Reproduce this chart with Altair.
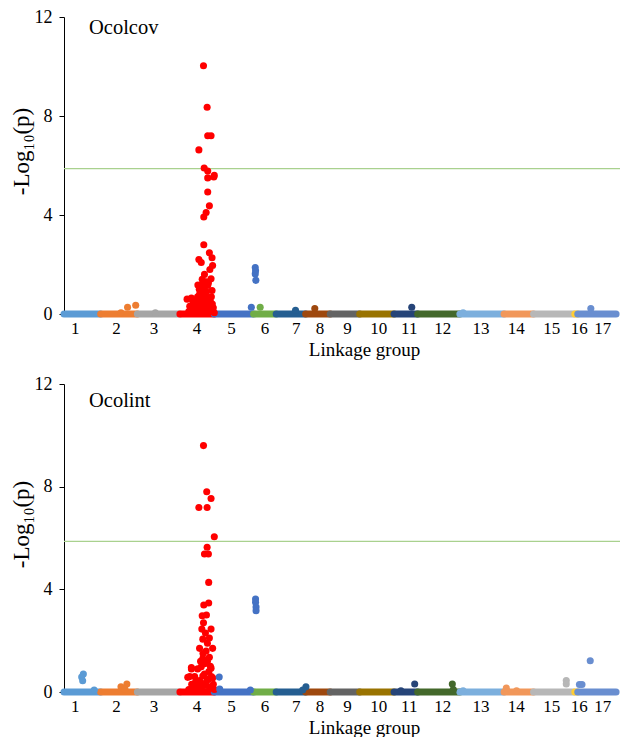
import json
import altair as alt
import pandas as pd

# ---------------- data ----------------
LG = list(range(1, 18))
SEG_START = [0, 37.3, 74.7, 118, 153, 193, 216, 246, 271, 301, 336, 360, 403, 448, 478, 520, 523]
SEG_END = [37.3, 74.7, 118, 153, 193, 216, 246, 271, 301, 336, 360, 403, 448, 478, 520, 523, 562]
LABEL_POS = [11, 53, 91, 135, 170, 204, 236, 260, 288, 320, 351, 385, 424, 460, 496, 524, 548]
COLORS = ["#5B9BD5", "#ED7D31", "#A5A5A5", "#FF0000", "#4472C4", "#70AD47", "#255E91",
          "#9E480E", "#636363", "#997300", "#264478", "#43682B", "#7CAFDD", "#F1975A",
          "#B7B7B7", "#FFCD33", "#698ED0"]
THRESHOLD = 5.87
PANELS = ["Ocolcov", "Ocolint"]

# Ocolcov (top panel): linkage group, cumulative position, -log10(p)
COV_LG = [2, 2, 2, 3] + [4] * 67 + [5, 5, 5, 5, 5, 6, 7, 8, 11, 13, 17]
COV_POS = [64.7, 73.0, 58.0, 93.0,
           142.0, 145.7, 146.3, 149.7, 137.3, 142.7, 146.3, 153.0, 146.3, 152.5, 146.3,
           148.0, 144.7, 142.3, 142.3, 137.3, 139.7, 148.0, 150.7, 151.3, 149.7, 140.7,
           146.3, 137.7, 150.7, 136.3, 125.3, 131.3, 129.7, 128.0, 141.3, 138.0, 144.0,
           147.0, 135.0, 152.0, 139.0, 143.0, 149.0, 133.0, 140.0, 145.0, 148.5, 136.0,
           143.5, 151.0, 146.0,
           127.0, 130.0, 134.0, 137.0, 139.0, 141.0, 142.0, 144.0, 145.0, 146.0,
           147.0, 148.0, 150.0, 151.0, 153.0, 136.0, 149.0, 145.5, 140.5, 143.0,
           194.7, 195.0, 194.7, 195.3, 190.7, 199.7, 235.7, 255.3, 354.0, 406.3, 536.3]
COV_VAL = [0.27, 0.35, 0.05, 0.05,
           10.03, 8.35, 7.2, 7.2, 6.63, 5.9, 5.78, 5.6, 5.5, 5.54, 4.93,
           4.37, 4.1, 3.92, 2.8, 2.2, 2.08, 2.47, 2.27, 1.96, 1.42, 1.4,
           1.15, 1.0, 0.95, 1.17, 0.6, 0.45, 0.64, 0.31, 0.6, 0.8, 0.75,
           0.5, 0.3, 0.25, 0.2, 0.15, 0.1, 0.1, 0.9, 1.3, 1.8, 0.5,
           0.35, 0.4, 0.2,
           0.1, 0.2, 0.55, 0.15, 0.45, 0.3, 1.05, 0.5, 0.9, 0.65,
           1.25, 0.3, 0.7, 0.15, 0.05, 0.7, 0.5, 0.1, 1.2, 1.6,
           1.88, 1.75, 1.62, 1.36, 0.27, 0.27, 0.15, 0.22, 0.27, 0.05, 0.22]

# Ocolint (bottom panel)
INT_LG = [1, 1, 1, 1, 2, 2, 2] + [4] * 60 + [5, 5, 5, 5, 5, 5, 5, 7, 7, 11, 11, 12, 12,
                                            13, 14, 14, 15, 15, 17, 17, 17]
INT_POS = [19.7, 18.0, 19.0, 30.7, 58.0, 64.0, 62.0,
           142.0, 145.3, 149.7, 137.3, 145.7, 153.0, 145.7, 143.0, 147.0, 147.3, 142.3,
           147.3, 140.7, 140.3, 149.7, 141.3, 148.0, 138.0, 144.7, 151.3, 141.3, 148.0,
           129.7, 139.7, 149.7, 128.0, 141.3, 151.3, 143.0, 146.0, 144.0, 137.0, 132.0,
           145.0, 150.0, 140.0, 147.5, 134.0, 126.0, 129.7,
           127.0, 130.0, 133.0, 135.0, 138.0, 140.0, 141.5, 143.0, 144.5, 146.0,
           147.0, 148.5, 150.0, 152.0, 153.0, 136.0, 142.0, 149.0, 145.0, 139.0,
           158.0, 158.5, 189.7, 195.0, 195.0, 195.5, 195.5, 246.3, 243.0, 357.0, 343.0,
           395.3, 396.3, 406.3, 450.3, 460.7, 511.3, 511.3, 524.7, 527.3, 535.7]
INT_VAL = [0.7, 0.58, 0.44, 0.08, 0.2, 0.31, 0.12,
           9.6, 7.8, 7.54, 7.19, 7.19, 6.05, 5.64, 5.38, 5.38, 4.27, 3.39,
           3.47, 2.97, 2.45, 2.45, 2.06, 2.1, 1.7, 1.6, 1.7, 1.3, 1.35,
           0.95, 0.98, 0.93, 0.6, 0.62, 0.55, 1.1, 1.9, 2.3, 0.3, 0.2,
           0.4, 0.2, 0.1, 0.8, 0.4, 0.57, 0.9,
           0.1, 0.3, 0.6, 0.15, 0.45, 0.3, 1.5, 0.7, 0.25, 1.2,
           0.5, 0.15, 0.6, 0.3, 0.1, 0.9, 2.7, 1.0, 3.0, 1.2,
           0.58, 0.12, 0.08, 3.62, 3.5, 3.31, 3.17, 0.2, 0.08, 0.31, 0.05,
           0.31, 0.1, 0.05, 0.15, 0.05, 0.45, 0.31, 0.29, 0.29, 1.22]

# ---------------- chart ----------------
FONT = "Liberation Serif"
seg_df = pd.DataFrame({"lg": [str(v) for v in LG], "start": SEG_START, "end": SEG_END})
thr_df = pd.DataFrame({"t": [THRESHOLD]})
color_scale = alt.Scale(domain=[str(v) for v in LG], range=COLORS)
x_scale = alt.Scale(domain=[0, 566], nice=False, zero=False)
y_scale = alt.Scale(domain=[0, 12], nice=False)
label_expr = "indexof(" + json.dumps(LABEL_POS) + ", datum.value) + 1"

x_axis = alt.Axis(values=LABEL_POS, labelExpr=label_expr, ticks=False, domain=False,
                  grid=False, title="Linkage group", labelPadding=6, titlePadding=4,
                  labelOverlap=False, labelFontSize=17, titleFontSize=19, titleX=300)


def make_y_axis(title_y):
    return alt.Axis(values=[0, 4, 8, 12], tickSize=5, labelPadding=7, grid=False,
                    title="-Log₁₀(p)", titlePadding=1, labelFontSize=18, titleFontSize=23,
                    titleY=title_y, domainColor="#000000", tickColor="#000000")


def panel(name, lgs, pos, vals, h, label_y, title_y):
    y_axis = make_y_axis(title_y)
    pts = pd.DataFrame({"lg": [str(v) for v in lgs], "pos": pos, "val": vals})
    base_seg = alt.Chart(seg_df).mark_rule(strokeWidth=7, strokeCap="round").encode(
        x=alt.X("start:Q", scale=x_scale, axis=x_axis),
        x2="end:Q",
        y=alt.datum(0, scale=y_scale, axis=y_axis),
        color=alt.Color("lg:N", scale=color_scale, legend=None),
    )
    thr = alt.Chart(thr_df).mark_rule(color="#A9D18E", strokeWidth=1.3).encode(
        y=alt.Y("t:Q", scale=y_scale, axis=y_axis)
    )
    dots = alt.Chart(pts).mark_circle(size=50, opacity=1).encode(
        x=alt.X("pos:Q", scale=x_scale, axis=x_axis),
        y=alt.Y("val:Q", scale=y_scale, axis=y_axis),
        color=alt.Color("lg:N", scale=color_scale, legend=None),
    )
    lab = alt.Chart(pd.DataFrame({"name": [name]})).mark_text(
        align="left", baseline="middle", font=FONT, fontSize=20.5, color="#000000"
    ).encode(x=alt.value(25), y=alt.value(label_y), text="name:N")
    return alt.layer(base_seg, thr, dots, lab).properties(width=556, height=h)


top = panel(PANELS[0], COV_LG, COV_POS, COV_VAL, 297, 11, 134)
bottom = panel(PANELS[1], INT_LG, INT_POS, INT_VAL, 308, 17, 140)

chart = alt.vconcat(top, bottom, spacing=16).properties(
    padding={"left": 2, "top": 0, "right": 0, "bottom": 0}
).configure_view(stroke=None).configure_axis(
    labelFont=FONT, titleFont=FONT, labelColor="#000000", titleColor="#000000",
    titleFontWeight="normal", domainColor="#000000"
)

chart.save("out.html", embed_options={"renderer": "svg", "actions": False})
